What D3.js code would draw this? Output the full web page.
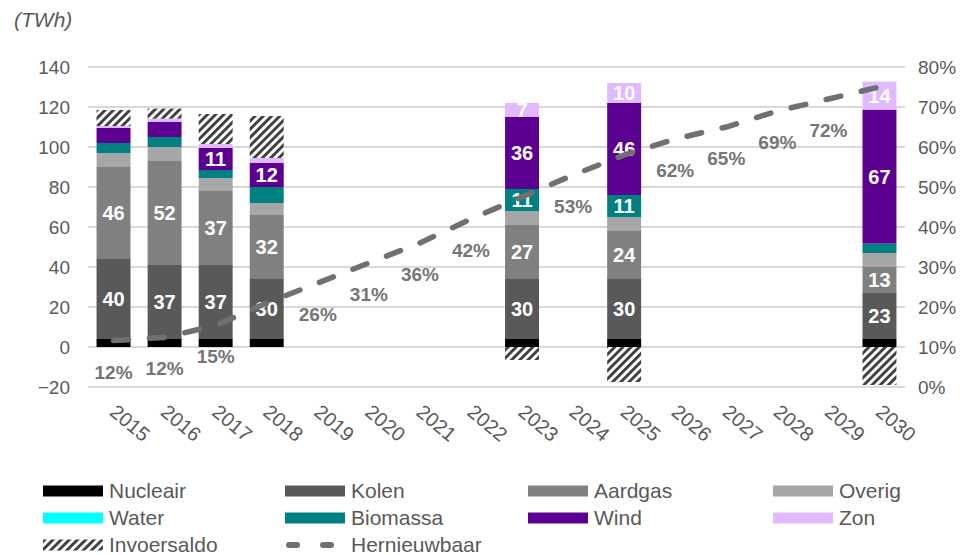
<!DOCTYPE html>
<html>
<head>
<meta charset="utf-8">
<script src="https://cdn.jsdelivr.net/npm/d3@7"></script>
<style>
  html, body { margin: 0; padding: 0; background: #ffffff; }
  svg { display: block; font-family: "Liberation Sans", Arial, sans-serif; }
</style>
</head>
<body>
<svg id="chart" width="970" height="555"></svg>
<script>
// ---------- DATA ----------
const years = [2015, 2016, 2017, 2018, 2019, 2020, 2021, 2022, 2023, 2024, 2025, 2026, 2027, 2028, 2029, 2030];
const nucleair     = [4, 4, 4, 4, null, null, null, null, 4, null, 4, null, null, null, null, 4];
const kolen        = [40, 37, 37, 30, null, null, null, null, 30, null, 30, null, null, null, null, 23];
const aardgas      = [46, 52, 37, 32, null, null, null, null, 27, null, 24, null, null, null, null, 13];
const overig       = [7, 7, 6.5, 6, null, null, null, null, 7, null, 7, null, null, null, null, 7];
const water        = [0, 0, 0, 0, null, null, null, null, 0, null, 0, null, null, null, null, 0];
const biomassa     = [5, 5, 4, 8, null, null, null, null, 11, null, 11, null, null, null, null, 4.7];
const wind         = [7.5, 7.5, 11, 12, null, null, null, null, 36, null, 46, null, null, null, null, 67];
const zon          = [1, 1.7, 2, 2.5, null, null, null, null, 7, null, 10, null, null, null, null, 14];
const invoersaldo  = [8, 5, 15, 21, null, null, null, null, -6.5, null, -17.5, null, null, null, null, -19];
const hernieuwbaar = [11.6, 12.4, 15.4, 21, 26, 31, 36, 42, 47.5, 53, 58, 62, 65, 69, 72, 75];

const leftTicks  = [-20, 0, 20, 40, 60, 80, 100, 120, 140];
const rightTicks = [0, 10, 20, 30, 40, 50, 60, 70, 80];

const seriesNames  = ["Nucleair", "Kolen", "Aardgas", "Overig", "Water", "Biomassa", "Wind", "Zon", "Invoersaldo"];
const seriesValues = [nucleair, kolen, aardgas, overig, water, biomassa, wind, zon, invoersaldo];
const seriesColors = ["#000000", "#595959", "#808080", "#a6a6a6", "#00ffff", "#008080", "#5c0092", "#e1b9ff", "url(#hatch)"];

// ---------- SETUP ----------
const svg = d3.select("#chart");
const plot = { left: 88, right: 905, top: 67, bottom: 387 };
const txt = "#595959";
const FONT = "Liberation Sans, Arial, sans-serif";

const x = d3.scaleBand().domain(years).range([plot.left, plot.right]).paddingInner(0.335).paddingOuter(0.1675);
const y = d3.scaleLinear().domain([-20, 140]).range([plot.bottom, plot.top]);
const yR = d3.scaleLinear().domain([0, 80]).range([plot.bottom, plot.top]);

const defs = svg.append("defs");
const pat = defs.append("pattern").attr("id", "hatch").attr("patternUnits", "userSpaceOnUse")
  .attr("width", 5.8).attr("height", 5.8).attr("patternTransform", "rotate(45)");
pat.append("rect").attr("width", 5.8).attr("height", 5.8).attr("fill", "#ffffff");
pat.append("rect").attr("width", 2.9).attr("height", 5.8).attr("fill", "#404040");

// table for stacking
const table = years.map((yr, i) => {
  const row = { year: yr };
  seriesNames.forEach((n, j) => row[n] = seriesValues[j][i]);
  return row;
});
const stack = d3.stack().keys(seriesNames).value((d, k) => d[k] || 0).offset(d3.stackOffsetDiverging);
const stacked = stack(table);

// ---------- GRID ----------
svg.append("g").selectAll("line").data(leftTicks).join("line")
  .attr("x1", plot.left).attr("x2", plot.right)
  .attr("y1", d => y(d)).attr("y2", d => y(d))
  .attr("stroke", "#d9d9d9").attr("stroke-width", 2);

// left axis labels
const axL = svg.append("g").attr("transform", `translate(${plot.left},0)`)
  .call(d3.axisLeft(y).tickValues(leftTicks).tickSize(0).tickPadding(18));
axL.select(".domain").remove();
axL.selectAll("text").attr("font-size", 19).attr("fill", txt).attr("font-family", FONT);

// right axis labels
const axR = svg.append("g").attr("transform", `translate(${plot.right},0)`)
  .call(d3.axisRight(yR).tickValues(rightTicks).tickSize(0).tickPadding(13).tickFormat(d => d + "%"));
axR.select(".domain").remove();
axR.selectAll("text").attr("font-size", 19).attr("fill", txt).attr("font-family", FONT);

// x axis labels (rotated)
const axX = svg.append("g").attr("transform", `translate(0,${plot.bottom})`)
  .call(d3.axisBottom(x).tickSize(0).tickPadding(0));
axX.select(".domain").remove();
axX.selectAll("text")
  .attr("font-size", 20).attr("fill", txt).attr("font-family", FONT)
  .attr("text-anchor", "start").attr("dy", null).attr("y", 0)
  .attr("transform", "translate(-5,27) rotate(40)");

// unit label
svg.append("text").attr("x", 14).attr("y", 27).attr("font-size", 21).attr("font-style", "italic")
  .attr("fill", txt).text("(TWh)");

// ---------- PERCENT LABELS (only where no bar covers them) ----------
const hasBar = years.map((yr, i) => nucleair[i] !== null);
svg.append("g").selectAll("text")
  .data(hernieuwbaar.map((v, i) => ({ v, i })).filter(d => !hasBar[d.i] || d.i < 3))
  .join("text")
  .attr("x", d => x(years[d.i]) + x.bandwidth() / 2)
  .attr("y", d => yR(d.v) + 38)
  .attr("text-anchor", "middle").attr("font-size", 19).attr("font-weight", "bold")
  .attr("fill", "#767676").text(d => Math.round(d.v) + "%");

// ---------- BARS ----------
const gBars = svg.append("g");
stacked.forEach((s, j) => {
  gBars.append("g").attr("fill", seriesColors[j])
    .selectAll("rect").data(s.filter(d => d[1] !== d[0])).join("rect")
    .attr("x", d => x(d.data.year))
    .attr("width", x.bandwidth())
    .attr("y", d => y(Math.max(d[0], d[1])))
    .attr("height", d => Math.abs(y(d[0]) - y(d[1])));
});

// bar value labels
const labelled = ["Kolen", "Aardgas", "Biomassa", "Wind", "Zon"];
stacked.forEach((s, j) => {
  const name = seriesNames[j];
  if (!labelled.includes(name)) return;
  const minVal = name === "Zon" ? 5 : 10;
  gBars.append("g").selectAll("text")
    .data(s.filter(d => (d.data[name] || 0) >= minVal)).join("text")
    .attr("x", d => x(d.data.year) + x.bandwidth() / 2)
    .attr("y", d => (y(d[0]) + y(d[1])) / 2)
    .attr("dy", "0.36em")
    .attr("text-anchor", "middle").attr("font-size", 20).attr("font-weight", "bold")
    .attr("fill", "#ffffff").text(d => Math.round(d.data[name]));
});

// ---------- LINE ----------
const line = d3.line()
  .x((d, i) => x(years[i]) + x.bandwidth() / 2)
  .y(d => yR(d));
svg.append("path").datum(hernieuwbaar)
  .attr("d", line).attr("fill", "none")
  .attr("stroke", "#707070").attr("stroke-width", 5.5)
  .attr("stroke-linecap", "round").attr("stroke-dasharray", "15,21");

// ---------- LEGEND ----------
const legendItems = [
  { name: "Nucleair", color: "#000000" }, { name: "Kolen", color: "#595959" },
  { name: "Aardgas", color: "#808080" }, { name: "Overig", color: "#a6a6a6" },
  { name: "Water", color: "#00ffff" }, { name: "Biomassa", color: "#008080" },
  { name: "Wind", color: "#5c0092" }, { name: "Zon", color: "#e1b9ff" },
  { name: "Invoersaldo", color: "url(#hatch)" }, { name: "Hernieuwbaar", line: true }
];
const colX = [43, 285, 528, 773];
const rowY = [491, 518, 545];
const lg = svg.append("g");
legendItems.forEach((it, i) => {
  const cx = colX[i % 4], cy = rowY[Math.floor(i / 4)];
  if (it.line) {
    lg.append("line").attr("x1", cx + 4).attr("x2", cx + 58).attr("y1", cy).attr("y2", cy)
      .attr("stroke", "#707070").attr("stroke-width", 6).attr("stroke-linecap", "round")
      .attr("stroke-dasharray", "8,26");
  } else {
    lg.append("rect").attr("x", cx).attr("y", cy - 5.5).attr("width", 60).attr("height", 11)
      .attr("fill", it.color);
  }
  lg.append("text").attr("x", cx + 66).attr("y", cy).attr("dy", "0.35em")
    .attr("font-size", 21).attr("fill", txt).text(it.name);
});
</script>
</body>
</html>
